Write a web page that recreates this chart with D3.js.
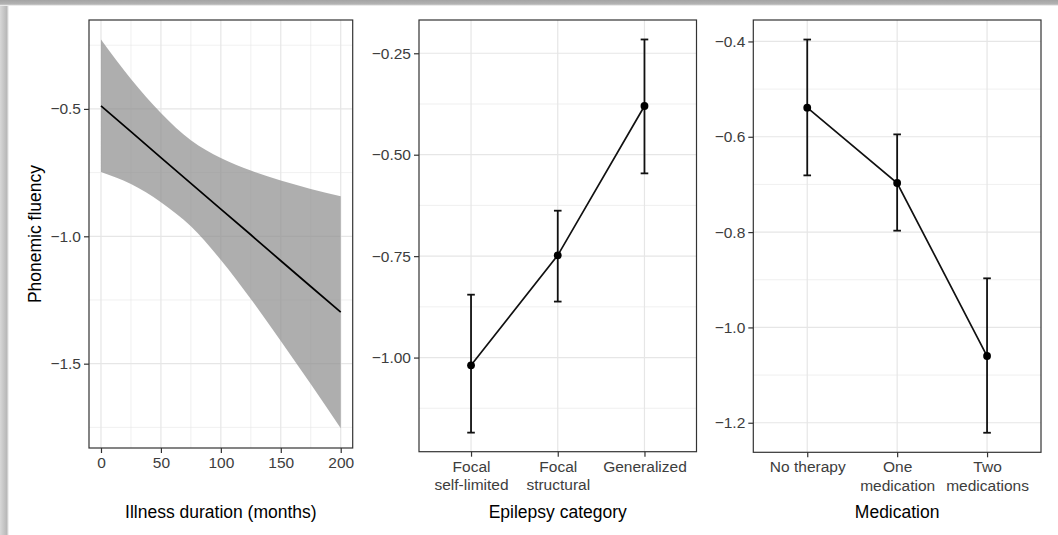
<!DOCTYPE html>
<html>
<head>
<meta charset="utf-8">
<script src="https://cdn.jsdelivr.net/npm/d3@7"></script>
<style>
  html, body { margin: 0; padding: 0; background: #fff; }
  svg { display: block; font-family: "Liberation Sans", Arial, sans-serif; }
</style>
</head>
<body>
<svg id="chart" width="1058" height="535"></svg>
<script>
// ---- Panel 1: phonemic fluency vs. illness duration (linear fit with CI) ----
const durationMonths = [0, 25, 50, 75, 100, 125, 150, 175, 200];
const fitLine  = [-0.488, -0.589, -0.691, -0.792, -0.893, -0.994, -1.096, -1.197, -1.298];
const ciUpper  = [-0.228, -0.383, -0.516, -0.623, -0.693, -0.742, -0.781, -0.814, -0.843];
const ciLower  = [-0.748, -0.795, -0.866, -0.961, -1.093, -1.246, -1.411, -1.580, -1.753];
const durationTicks = [0, 50, 100, 150, 200];
const durationMinor = [25, 75, 125, 175];
const fluencyTicks1 = [-0.5, -1.0, -1.5];
const fluencyMinor1 = [-0.25, -0.75, -1.25, -1.75];

// ---- Panel 2: by epilepsy category ----
const epilepsyCategories = ["Focal\nself-limited", "Focal\nstructural", "Generalized"];
const epilepsyMean = [-1.019, -0.748, -0.380];
const epilepsyLow  = [-1.185, -0.862, -0.546];
const epilepsyHigh = [-0.845, -0.638, -0.216];
const fluencyTicks2 = [-0.25, -0.50, -0.75, -1.00];
const fluencyMinor2 = [-0.375, -0.625, -0.875, -1.125];

// ---- Panel 3: by medication ----
const medicationCategories = ["No therapy", "One\nmedication", "Two\nmedications"];
const medicationMean = [-0.539, -0.697, -1.060];
const medicationLow  = [-0.681, -0.797, -1.221];
const medicationHigh = [-0.396, -0.595, -0.897];
const fluencyTicks3 = [-0.4, -0.6, -0.8, -1.0, -1.2];
const fluencyMinor3 = [-0.5, -0.7, -0.9, -1.1];

const svg = d3.select("#chart");
const fmtMinus = s => s.replace("-", "\u2212");

// card shadow along the top and left edges
const defs = svg.append("defs");
const gTop = defs.append("linearGradient").attr("id", "shadeTop").attr("x1", 0).attr("y1", 0).attr("x2", 0).attr("y2", 1);
gTop.append("stop").attr("offset", "0%").attr("stop-color", "#a4a4a4");
gTop.append("stop").attr("offset", "70%").attr("stop-color", "#b4b4b4");
gTop.append("stop").attr("offset", "100%").attr("stop-color", "#ffffff");
const gLeft = defs.append("linearGradient").attr("id", "shadeLeft").attr("x1", 0).attr("y1", 0).attr("x2", 1).attr("y2", 0);
gLeft.append("stop").attr("offset", "0%").attr("stop-color", "#d8d8d8");
gLeft.append("stop").attr("offset", "75%").attr("stop-color", "#b8b8b8");
gLeft.append("stop").attr("offset", "100%").attr("stop-color", "#ffffff");
svg.append("rect").attr("x", 0).attr("y", 0).attr("width", 9).attr("height", 535).attr("fill", "url(#shadeLeft)");
svg.append("rect").attr("x", 0).attr("y", 0).attr("width", 1058).attr("height", 6).attr("fill", "url(#shadeTop)");

const GRID = "#e6e6e6";
const BORDER = "#333333";
const TICKTXT = "#3d3d3d";

function panelFrame(g, x0, x1, y0, y1) {
  g.append("rect").attr("x", x0).attr("y", y0).attr("width", x1 - x0).attr("height", y1 - y0)
    .attr("fill", "none").attr("stroke", BORDER).attr("stroke-width", 1.2);
}

function hGrid(g, y, values, x0, x1, w) {
  g.selectAll(null).data(values).enter().append("line")
    .attr("x1", x0).attr("x2", x1).attr("y1", d => y(d)).attr("y2", d => y(d))
    .attr("stroke", GRID).attr("stroke-width", w);
}
function vGrid(g, xPos, values, y0, y1, w) {
  g.selectAll(null).data(values).enter().append("line")
    .attr("x1", d => xPos(d)).attr("x2", d => xPos(d)).attr("y1", y0).attr("y2", y1)
    .attr("stroke", GRID).attr("stroke-width", w);
}

function styleAxis(ax) {
  ax.select(".domain").remove();
  ax.selectAll(".tick line").attr("stroke", BORDER).attr("stroke-width", 1.2);
  ax.selectAll(".tick text").attr("fill", TICKTXT).style("font-size", "15.5px");
}

function yAxis(g, y, x0, ticks, fmt) {
  const ax = g.append("g").attr("transform", `translate(${x0},0)`)
    .call(d3.axisLeft(y).tickValues(ticks).tickSize(5).tickPadding(3).tickFormat(d => fmtMinus(fmt(d))));
  styleAxis(ax);
}

function xAxis(g, x, y1, ticks, fmt) {
  const ax = g.append("g").attr("transform", `translate(0,${y1})`)
    .call(d3.axisBottom(x).tickValues(ticks).tickSize(5).tickPadding(4).tickFormat(fmt));
  styleAxis(ax);
  // allow two-line category labels
  ax.selectAll(".tick text").each(function(d) {
    const t = d3.select(this);
    const lines = String(fmt(d)).split("\n");
    t.text(null);
    lines.forEach((ln, i) => t.append("tspan").attr("x", 0).attr("dy", i === 0 ? "0.71em" : "1.2em").text(ln));
  });
  ax.selectAll(".tick text").attr("dy", null);
}

function xTitle(text, cx, cy) {
  svg.append("text").attr("x", cx).attr("y", cy).attr("text-anchor", "middle")
    .attr("dominant-baseline", "central").style("font-size", "17.5px").attr("fill", "#000").text(text);
}

// ================= Panel 1 =================
{
  const g = svg.append("g");
  const X0 = 89, X1 = 352.7, Y0 = 20, Y1 = 448;
  const x = d3.scaleLinear().domain([-10, 210]).range([X0, X1]);
  const y = d3.scaleLinear().domain([-1.831, -0.151]).range([Y1, Y0]);

  hGrid(g, y, fluencyMinor1, X0, X1, 0.6);
  vGrid(g, x, durationMinor, Y0, Y1, 0.6);
  hGrid(g, y, fluencyTicks1, X0, X1, 1.2);
  vGrid(g, x, durationTicks, Y0, Y1, 1.2);

  const band = durationMonths.map((m, i) => ({ m, lo: ciLower[i], hi: ciUpper[i], fit: fitLine[i] }));
  g.append("path").datum(band)
    .attr("d", d3.area().x(d => x(d.m)).y0(d => y(d.lo)).y1(d => y(d.hi)).curve(d3.curveMonotoneX))
    .attr("fill", "#8c8c8c").attr("fill-opacity", 0.7);
  g.append("path").datum(band)
    .attr("d", d3.line().x(d => x(d.m)).y(d => y(d.fit)))
    .attr("fill", "none").attr("stroke", "#000").attr("stroke-width", 1.7);

  panelFrame(g, X0, X1, Y0, Y1);
  yAxis(g, y, X0, fluencyTicks1, d3.format(".1f"));
  xAxis(g, x, Y1, durationTicks, d => String(d));

  svg.append("text").attr("transform", `translate(35,${(Y0 + Y1) / 2}) rotate(-90)`)
    .attr("text-anchor", "middle").attr("dominant-baseline", "central")
    .style("font-size", "17.5px").attr("fill", "#000").text("Phonemic fluency");
  xTitle("Illness duration (months)", (X0 + X1) / 2, 511.5);
}

// category panel with points, connecting line and error bars
function categoryPanel(opts) {
  const g = svg.append("g");
  const { X0, X1, Y0, Y1, cats, mean, lo, hi, yDomain, ticks, minor, fmt, title } = opts;
  const x = d3.scalePoint().domain(cats).range([X0, X1]).padding(0.6);
  const y = d3.scaleLinear().domain(yDomain).range([Y1, Y0]);

  hGrid(g, y, minor, X0, X1, 0.6);
  hGrid(g, y, ticks, X0, X1, 1.2);
  vGrid(g, x, cats, Y0, Y1, 1.2);

  const rows = cats.map((c, i) => ({ c, m: mean[i], lo: lo[i], hi: hi[i] }));
  const cap = 3.8;
  const eb = g.selectAll(null).data(rows).enter().append("g");
  eb.append("line").attr("x1", d => x(d.c)).attr("x2", d => x(d.c)).attr("y1", d => y(d.lo)).attr("y2", d => y(d.hi));
  eb.append("line").attr("x1", d => x(d.c) - cap).attr("x2", d => x(d.c) + cap).attr("y1", d => y(d.lo)).attr("y2", d => y(d.lo));
  eb.append("line").attr("x1", d => x(d.c) - cap).attr("x2", d => x(d.c) + cap).attr("y1", d => y(d.hi)).attr("y2", d => y(d.hi));
  eb.selectAll("line").attr("stroke", "#111").attr("stroke-width", 1.8);

  g.append("path").datum(rows)
    .attr("d", d3.line().x(d => x(d.c)).y(d => y(d.m)))
    .attr("fill", "none").attr("stroke", "#111").attr("stroke-width", 1.7);
  g.selectAll(null).data(rows).enter().append("circle")
    .attr("cx", d => x(d.c)).attr("cy", d => y(d.m)).attr("r", 3.9).attr("fill", "#000");

  panelFrame(g, X0, X1, Y0, Y1);
  yAxis(g, y, X0, ticks, fmt);
  xAxis(g, x, Y1, cats, d => d);
  xTitle(title, (X0 + X1) / 2, 511.5);
}

// ================= Panel 2 =================
categoryPanel({
  X0: 419, X1: 696.5, Y0: 20, Y1: 451.7,
  cats: epilepsyCategories, mean: epilepsyMean, lo: epilepsyLow, hi: epilepsyHigh,
  yDomain: [-1.232, -0.168], ticks: fluencyTicks2, minor: fluencyMinor2,
  fmt: d3.format(".2f"), title: "Epilepsy category"
});

// ================= Panel 3 =================
categoryPanel({
  X0: 753.3, X1: 1041, Y0: 20, Y1: 452.3,
  cats: medicationCategories, mean: medicationMean, lo: medicationLow, hi: medicationHigh,
  yDomain: [-1.262, -0.355], ticks: fluencyTicks3, minor: fluencyMinor3,
  fmt: d3.format(".1f"), title: "Medication"
});
</script>
</body>
</html>
